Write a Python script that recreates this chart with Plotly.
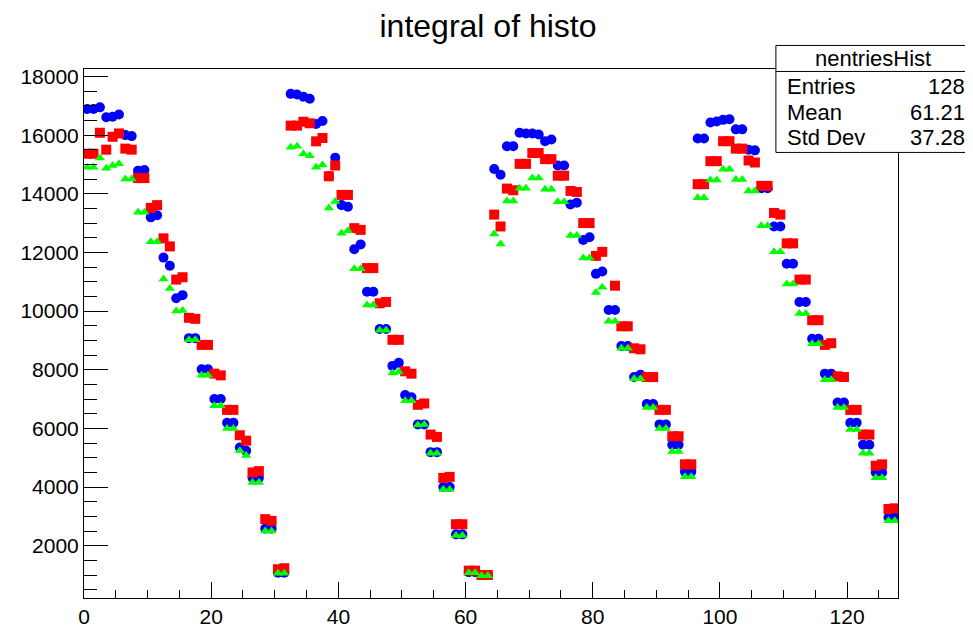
import plotly.graph_objects as go

bins = list(range(128))

blue_vals = [
    16892, 16892, 16950, 16615, 16627, 16708, 16004, 15969, 14792, 14815,
    13199, 13269, 11826, 11549, 10441, 10545, 9079, 9079, 8018, 8018,
    7002, 7002, 6195, 6195, 5352, 5237, 4314, 4314, 2583, 2583,
    1080, 1080,
    17411, 17388, 17310, 17243, 16383, 16484, 14600, 15235, 13616, 13562,
    12115, 12276, 10661, 10661, 9391, 9391, 8133, 8237, 7141, 7060,
    6137, 6137, 5191, 5191, 4002, 4002, 2387, 2387, 1100, 1100,
    1000, 1000,
    14850, 14653, 15623, 15623, 16084, 16061, 16061, 16027, 15796, 15854,
    14965, 14965, 13638, 13696, 12426, 12519, 11272, 11353, 10037, 10037,
    8814, 8814, 7752, 7833, 6829, 6829, 6137, 6137, 5444, 5444,
    4521, 4521,
    15888, 15888, 16431, 16465, 16523, 16546, 16200, 16200, 15507, 15484,
    14192, 14192, 12888, 12888, 11618, 11618, 10314, 10314, 9057, 9057,
    7868, 7868, 6887, 6887, 6195, 6195, 5444, 5444, 4498, 4498,
    2963, 2963,
]

red_vals = [
    15369, 15369, 16084, 15507, 15946, 16061, 15542, 15507, 14538, 14538,
    13522, 13615, 12484, 12207, 11076, 11157, 9772, 9737, 8849, 8849,
    7868, 7810, 6633, 6633, 5768, 5583, 4498, 4544, 2906, 2848,
    1198, 1233,
    16327, 16327, 16460, 16407, 15791, 15904, 14600, 14968, 13964, 13964,
    12830, 12772, 11468, 11468, 10268, 10314, 9022, 9022, 7949, 7868,
    6806, 6852, 5791, 5710, 4314, 4348, 2733, 2733, 1151, 1151,
    1001, 1001,
    13292, 12888, 14180, 14123, 15023, 15023, 15392, 15392, 15184, 15184,
    14619, 14619, 14099, 14065, 13003, 13003, 11884, 12022, None, 10868,
    9483, 9483, 8733, 8699, 7752, 7752, 6633, 6633, 5733, 5733,
    4775, 4775,
    14330, 14330, 15115, 15115, 15796, 15796, 15542, 15542, 15138, 15069,
    14272, 14272, 13349, 13292, 12311, 12311, 11076, 11076, 9691, 9691,
    8849, 8907, 7776, 7752, 6633, 6633, 5791, 5791, 4729, 4775,
    3252, 3275,
]

green_vals = [
    14907, 14907, 15219, 14873, 14965, 15023, 14503, 14503, 13373, 13373,
    12368, 12368, 11099, 10776, 10003, 10026, 9022, 9022, 7810, 7810,
    6771, 6771, 5998, 5998, 5236, 5075, 4152, 4152, 2502, 2502,
    1059, 1059,
    15590, 15624, 15369, 15302, 14911, 14988, 13515, 13739, 12657, 12738,
    11445, 11445, 10210, 10210, 9345, 9345, 7891, 7926, 6945, 6945,
    6114, 6137, 5156, 5156, 3921, 3921, 2352, 2352, 1082, 1082,
    978, 978,
    12634, 12288, 13753, 13753, 14192, 14192, 14538, 14538, 14157, 14157,
    13730, 13730, 12576, 12576, 11815, 11815, 10638, 10811, 9657, 9657,
    8733, 8733, 7695, 7695, 6714, 6714, 5998, 5998, 5214, 5214,
    4348, 4348,
    13869, 13869, 14469, 14469, 14838, 14838, 14492, 14492, 14099, 14099,
    12911, 12911, 12022, 12022, 10926, 10926, 9922, 9922, 8884, 8884,
    7660, 7660, 6714, 6714, 5964, 5964, 5156, 5156, 4314, 4314,
    2848, 2848,
]

title_text = "integral of histo"
stats_title = "nentriesHist"
stats_rows = [("Entries", "128"), ("Mean", "61.21"), ("Std Dev", "37.28")]

x_centers = [b + 0.5 for b in bins]

# page body has an 8px margin; shift the layout up/left to compensate
OFF = 8
W, H = 973, 632
PLOT_L, PLOT_T, PW, PH = 78, 69, 820, 539
L = PLOT_L - OFF
T = PLOT_T - OFF
R = W - L - PW
B = H - T - PH


def px(xp):
    return (xp - PLOT_L) / PW


def py(yp):
    return (PLOT_T + PH - yp) / PH


FONT = "Liberation Sans, Arial, Helvetica, sans-serif"

fig = go.Figure()
fig.add_trace(go.Scatter(x=x_centers, y=blue_vals, mode="markers",
                         marker=dict(symbol="circle", size=10, color="#0000ff"),
                         showlegend=False))
fig.add_trace(go.Scatter(x=x_centers, y=red_vals, mode="markers",
                         marker=dict(symbol="square", size=10, color="#ff0000"),
                         showlegend=False))
fig.add_trace(go.Scatter(x=x_centers, y=green_vals, mode="markers",
                         marker=dict(symbol="triangle-up", size=9, color="#00ff00"),
                         showlegend=False))

fig.update_layout(
    width=W, height=H,
    margin=dict(l=L, r=R, t=T, b=B, pad=0),
    paper_bgcolor="white", plot_bgcolor="white",
    font=dict(family=FONT, color="black", size=21),
    title=dict(text=title_text, x=(488 - OFF) / W, xref="container", xanchor="center",
               y=1 - (26 - OFF) / H, yref="container", yanchor="middle",
               font=dict(size=32, family=FONT, color="black")),
    xaxis=dict(range=[0, 128], showgrid=False, zeroline=False,
               showline=True, linecolor="black", linewidth=1, mirror=True,
               ticks="inside", ticklen=16, tickcolor="black", tickwidth=1,
               tick0=0, dtick=20, tickfont=dict(size=21),
               minor=dict(ticks="inside", ticklen=8, dtick=5, tick0=0,
                          tickcolor="black", showgrid=False)),
    yaxis=dict(range=[217, 18258], showgrid=False, zeroline=False,
               showline=True, linecolor="black", linewidth=1, mirror=True,
               ticks="inside", ticklen=24, tickcolor="black", tickwidth=1,
               tick0=0, dtick=2000, tickformat="d", tickfont=dict(size=21),
               minor=dict(ticks="inside", ticklen=13, dtick=500, tick0=0,
                          tickcolor="black", showgrid=False)),
)

# stats box
fig.add_shape(type="rect", xref="paper", yref="paper",
              x0=px(775), x1=px(971), y0=py(154), y1=py(45),
              line=dict(color="black", width=1), fillcolor="white", layer="above")
fig.add_shape(type="line", xref="paper", yref="paper",
              x0=px(775), x1=px(971), y0=py(71.5), y1=py(71.5),
              line=dict(color="black", width=1), layer="above")
fig.add_annotation(text=stats_title, xref="paper", yref="paper",
                   x=px(873), y=py(58), xanchor="center", yanchor="middle",
                   showarrow=False, font=dict(size=22, family=FONT))
row_y = [87, 113, 139]
for (lab, val), yy in zip(stats_rows, row_y):
    fig.add_annotation(text=lab, xref="paper", yref="paper",
                       x=px(784), y=py(yy), xanchor="left", yanchor="middle",
                       showarrow=False, font=dict(size=22, family=FONT))
    fig.add_annotation(text=val, xref="paper", yref="paper",
                       x=px(968), y=py(yy), xanchor="right", yanchor="middle",
                       showarrow=False, font=dict(size=22, family=FONT))

fig.write_html("out.html")
